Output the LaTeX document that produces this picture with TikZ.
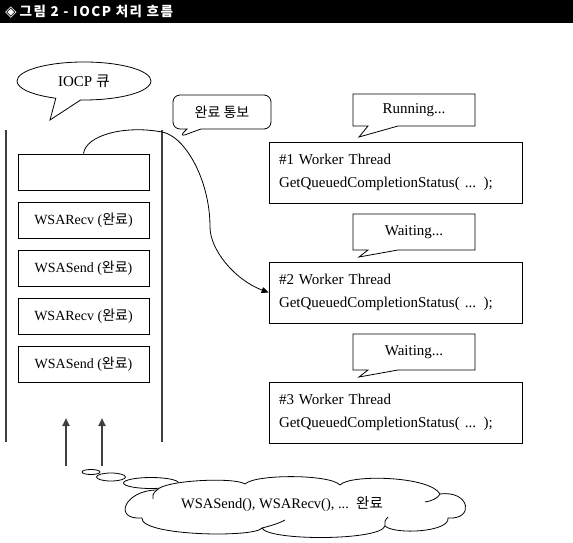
\documentclass[tikz,border=0pt]{standalone}
\usepackage{fontspec}
\setmainfont{Liberation Serif}
\newfontfamily\kr{Noto Sans CJK KR}
\newfontfamily\krwide[LetterSpace=11]{Noto Sans CJK KR}
\newfontfamily\djv{DejaVu Sans}
\newcommand\ko[1]{{\kr #1}}
\usetikzlibrary{shapes.callouts,shapes.geometric,arrows.meta}
\tikzset{
  qbox/.style={draw=black,line width=0.8pt,minimum width=131pt,minimum height=36pt,inner sep=0pt,font=\fontsize{14}{16}\selectfont},
  wbox/.style={draw=black,line width=0.8pt,minimum width=253pt,minimum height=61pt,text width=233pt,align=left,inner sep=0pt,font=\fontsize{15}{23}\selectfont},
  rcall/.style={rectangle callout,draw=black,line width=0.8pt,fill=white,minimum width=122pt,minimum height=34pt,inner sep=0pt,callout pointer width=30pt,font=\fontsize{15}{16}\selectfont},
  qline/.style={draw=black!75,line width=2.2pt},
  uparrow/.style={draw=black!75,line width=2pt,-{Triangle[length=8pt,width=7pt]}},
  bubble/.style={ellipse,draw=black,line width=0.8pt,fill=white,inner sep=0pt},
  cloudline/.style={draw=black,line width=0.8pt,fill=white},
}
\begin{document}
\begin{tikzpicture}[x=1pt,y=-1pt]
\useasboundingbox (0,0) rectangle (573,543);
% title bar
\fill[black] (0,0) rectangle (573,23);
\node[anchor=west,text=white,inner sep=0pt,font=\krwide\bfseries\fontsize{13.5}{14}\selectfont] (title) at (5,12) {{\djv\fontsize{15}{15}\selectfont ◈}\hspace{3pt}그림 2 - IOCP 처리 흐름};
% queue walls
\coordinate (qtl) at (6,130);
\coordinate (qbl) at (6,442);
\coordinate (qtr) at (162,130);
\coordinate (qbr) at (162,442);
\draw[qline] (qtl) -- (qbl);
\draw[qline] (qtr) -- (qbr);
% queue items
\node[qbox] (q1) at (83.5,172) {};
\node[qbox] (q2) at (83.5,220) {WSARecv (\ko{완료})};
\node[qbox] (q3) at (83.5,268) {WSASend (\ko{완료})};
\node[qbox] (q4) at (83.5,316) {WSARecv (\ko{완료})};
\node[qbox] (q5) at (83.5,364) {WSASend (\ko{완료})};
% worker boxes
\node[wbox] (w1) at (395.5,172.5) {\#1 Worker Thread\\GetQueuedCompletionStatus( ... );};
\node[wbox] (w2) at (395.5,292.5) {\#2 Worker Thread\\GetQueuedCompletionStatus( ... );};
\node[wbox] (w3) at (395.5,412.5) {\#3 Worker Thread\\GetQueuedCompletionStatus( ... );};
% callouts
\node[rcall,minimum height=32pt,callout absolute pointer={(359,137)}] (run) at (414,110) {Running...};
\node[rcall,minimum height=36pt,callout absolute pointer={(359,257)}] (wait1) at (414,232) {Waiting...};
\node[rcall,minimum height=36pt,callout absolute pointer={(359,377)}] (wait2) at (414,352) {Waiting...};
\node[rcall,rounded corners=7pt,minimum width=98pt,minimum height=34pt,callout pointer width=14pt,callout absolute pointer={(179,137)},font=\kr\fontsize{14}{16}\selectfont] (notify) at (222,112) {완료 통보};
\node[ellipse callout,draw=black,line width=0.8pt,fill=white,minimum width=134pt,minimum height=38pt,inner sep=0pt,callout pointer arc=22,callout absolute pointer={(50,120)},font=\fontsize{15}{16}\selectfont] (iocp) at (84,81) {IOCP \ko{큐}};
% completion notification curve
\draw[line width=0.8pt,-{Triangle[length=7pt,width=6pt]}] (q1.north) .. controls (86,135) and (125,125) .. (162,132) .. controls (185,136) and (210,180) .. (210,227) .. controls (210,250) and (235,280) .. (w2.west);
% upward arrows
\coordinate (a1s) at (66,466);
\coordinate (a1e) at (66,418);
\coordinate (a2s) at (102,466);
\coordinate (a2e) at (102,418);
\draw[uparrow] (a1s) -- (a1e);
\draw[uparrow] (a2s) -- (a2e);
% thought bubbles
\node[bubble,minimum width=18pt,minimum height=5pt] (b1) at (91,472) {};
\node[bubble,minimum width=29pt,minimum height=8pt] (b2) at (111,477) {};
\node[bubble,minimum width=55pt,minimum height=11pt] (b3) at (151,483) {};
% cloud
\path[cloudline] (142,518)
  .. controls (112,520) and (125,490) .. (157,490)
  .. controls (165,480) and (235,477) .. (245,484)
  .. controls (255,474) and (330,474) .. (340,485)
  .. controls (350,474) and (430,476) .. (440,494)
  .. controls (470,490) and (475,520) .. (448,518)
  .. controls (450,532) and (395,535) .. (385,526)
  .. controls (380,541) and (268,541) .. (262,528)
  .. controls (255,538) and (140,536) .. cycle;
\draw[line width=0.8pt] (157,490) .. controls (153,493) and (152,496) .. (153,499);
\draw[line width=0.8pt] (440,494) .. controls (438,498) and (432,501) .. (425,502);
\draw[line width=0.8pt] (385,526) .. controls (384,523) and (385,520) .. (388,517);
\draw[line width=0.8pt] (262,528) .. controls (270,526) and (280,523) .. (285,520);
\node[inner sep=0pt,font=\fontsize{14.5}{16}\selectfont] (cloud) at (282,504) {WSASend(), WSARecv(), ...\ \ \ko{완료}};
\end{tikzpicture}
\end{document}
